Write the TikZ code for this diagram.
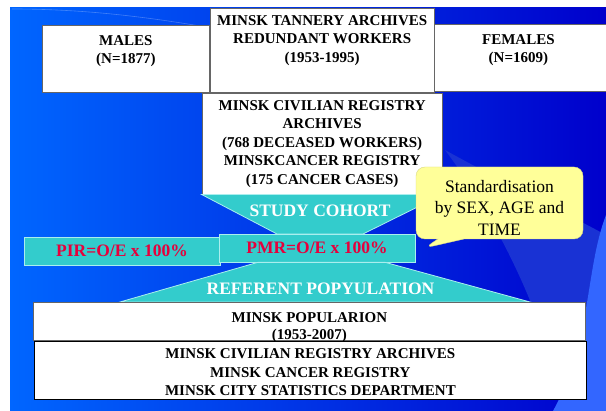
\documentclass[tikz,border=0pt]{standalone}
\usepackage{fontspec}
\setmainfont{Liberation Serif}
\usetikzlibrary{positioning,shapes.callouts}

\definecolor{slideblue}{RGB}{0,102,255}
\definecolor{darkblue}{RGB}{0,0,204}
\definecolor{midblue}{RGB}{25,50,212}
\definecolor{lightblue}{RGB}{51,102,255}
\definecolor{cohort}{RGB}{51,204,204}
\definecolor{cohortline}{RGB}{170,238,238}
\definecolor{ratio}{RGB}{230,0,60}
\definecolor{note}{RGB}{255,255,153}

\begin{document}
\begin{tikzpicture}[x=1pt,y=-1pt]
  \tikzstyle{box}=[draw=black!60, fill=white, line width=0.8pt, inner sep=0pt]
  \tikzstyle{boxtext}=[font=\bfseries\fontsize{15}{18.5}\selectfont, align=center, inner sep=0pt]
  \tikzstyle{band}=[fill=cohort, draw=cohortline, line width=0.8pt]
  \tikzstyle{bandtext}=[font=\bfseries\fontsize{17.5}{20}\selectfont, text=white, anchor=base, inner sep=0pt]
  \tikzstyle{ratiobox}=[band, minimum width=196pt, minimum height=28pt, inner sep=0pt, text depth=0pt,
                        font=\bfseries\fontsize{17.5}{20}\selectfont, text=ratio]
  \tikzstyle{notebox}=[rectangle callout, fill=note, draw=note!85!black, line width=0.4pt,
                       rounded corners=9pt, callout pointer width=26pt,
                       minimum width=167pt, minimum height=72pt]
  \tikzstyle{notetext}=[font=\fontsize{17.5}{21.5}\selectfont, align=center, inner sep=0pt]

  \useasboundingbox (0,0) rectangle (606,411);
  \fill[left color=slideblue, right color=darkblue] (10,8) rectangle (606,411);
  \begin{scope}
    \clip (10,8) rectangle (606,411);
    \fill[midblue] (445,150) .. controls (490,210) and (540,300) .. (565,411)
      -- (606,411) -- (606,235) .. controls (550,205) and (490,175) .. cycle;
    \fill[lightblue] (606,215) .. controls (585,270) and (592,340) .. (553,411)
      -- (606,411) -- cycle;
    \draw[white, opacity=0.25, line width=0.6pt] (12,9) .. controls (80,9) and (140,16) .. (200,26);
  \end{scope}

  \node[box, anchor=north west, minimum width=167pt, minimum height=67pt] (males) at (42,25) {};
  \node[box, anchor=south west, minimum width=176pt, minimum height=67pt] (females) at (433,92) {};
  \node[box, anchor=south west, minimum width=224pt, minimum height=84pt] (tannery) at (males.south east) {};
  \node[boxtext, below=10pt of males.north] (malestext) {MALES\\(N=1877)};
  \node[boxtext, below=10pt of females.north, xshift=-3pt] (femalestext) {FEMALES\\(N=1609)};
  \node[boxtext, below=7pt of tannery.north] (tannerytext) {MINSK TANNERY ARCHIVES\\REDUNDANT WORKERS\\(1953-1995)};

  \node[box, anchor=north, minimum width=240pt, minimum height=101pt] (registry) at (tannery.south) {};
  \node[boxtext, below=7.5pt of registry.north] (registrytext)
    {MINSK CIVILIAN REGISTRY\\ARCHIVES\\(768 DECEASED WORKERS)\\MINSKCANCER REGISTRY\\(175 CANCER CASES)};

  \coordinate (pmrpos) at (317,248);
  \coordinate (popnw) at (33,302);
  \draw[band] (registry.south west) -- (registry.south east)
    -- ([xshift=46pt,yshift=14pt]pmrpos) -- ([xshift=-40pt,yshift=14pt]pmrpos) -- cycle;
  \node[bandtext] (cohorttext) at (320,217) {STUDY COHORT};

  \node[ratiobox] (pir) at (122,251) {PIR=O/E x 100\%};
  \node[ratiobox] (pmr) at (pmrpos) {PMR=O/E x 100\%};

  \draw[band] ([xshift=39pt]pmr.south west) -- ([xshift=-30pt]pmr.south east)
    -- ([xshift=497pt]popnw) -- ([xshift=87pt]popnw) -- cycle;
  \node[bandtext] (referenttext) at (320.5,295) {REFERENT POPYULATION};

  \node[box, anchor=north west, minimum width=552pt, minimum height=38pt] (popul) at (popnw) {};
  \node[boxtext, below=10pt of popul.north] (popultext)
    {MINSK POPULARION\\[-1.5pt](1953-2007)};

  \node[box, draw=black, line width=1pt, anchor=north, minimum width=552pt, minimum height=58pt]
    (sources) at ([xshift=1pt]popul.south) {};
  \node[boxtext, below=8pt of sources.north] (sourcestext)
    {MINSK CIVILIAN REGISTRY ARCHIVES\\MINSK CANCER REGISTRY\\MINSK CITY STATISTICS DEPARTMENT};

  \node[notebox, callout absolute pointer={([xshift=9pt]pmr.east)}] (note) at (499.5,203) {};
  \node[notetext] (notetext) at ([yshift=-4.5pt]note.center) {Standardisation\\by SEX, AGE and\\TIME};
\end{tikzpicture}
\end{document}
